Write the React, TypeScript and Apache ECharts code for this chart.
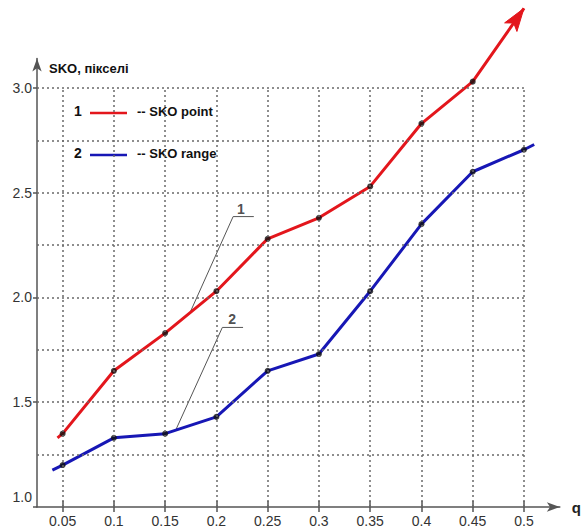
import React, { useEffect, useRef } from "react";
import * as echarts from "echarts";

// ---- data ----
const qValues = [0.05, 0.1, 0.15, 0.2, 0.25, 0.3, 0.35, 0.4, 0.45, 0.5];
const skoPointQ = [0.05, 0.1, 0.15, 0.2, 0.25, 0.3, 0.35, 0.4, 0.45];
const skoPoint = [1.35, 1.65, 1.83, 2.03, 2.28, 2.38, 2.53, 2.83, 3.03];
const skoRange = [1.2, 1.33, 1.35, 1.43, 1.65, 1.73, 2.03, 2.35, 2.6, 2.705];
const pointLineStart = [0.045, 1.33];
const pointArrowTip = [0.5, 3.38];
const rangeLineStart = [0.04, 1.176];
const rangeLineEnd = [0.51, 2.73];
const yTickLabels = [1.0, 1.5, 2.0, 2.5, 3.0];
const yGridValues = [1.25, 1.5, 1.75, 2.0, 2.25, 2.5, 2.75, 3.0];
const leader1 = [[0.174, 1.925], [0.2163, 2.386], [0.2365, 2.386]];
const leader2 = [[0.1606, 1.37], [0.2058, 1.857], [0.226, 1.857]];
const leaderLabels = [
  { name: "1", value: [0.224, 2.42] },
  { name: "2", value: [0.2154, 1.895] },
];
const xMin = 0.025;
const xMax = 0.535;
const yMin = 1.0;
const yMax = 3.14;
const legendItems = ["-- SKO point", "-- SKO range"];

const FONT = "Liberation Sans, Arial, sans-serif";
const RED = "#e3161c";
const BLUE = "#1717b5";
const GRID_COLOR = "#6a6a6a";
const ARROW_LEN = 23;
const ARROW_W = 15;

export default function App() {
  const ref = useRef<HTMLDivElement>(null);
  useEffect(() => {
    if (!ref.current) return;
    const chart = echarts.init(ref.current, null, { renderer: "svg" });

    const gridTop = 508 - (yMax - yMin) * 210;
    const gridLeft = 37;
    const gridRight = 584 - (37 + (xMax - xMin) * 1040);

    const gridLines: any[] = [];
    qValues.forEach((q) => {
      gridLines.push([{ coord: [q, yMin] }, { coord: [q, 3.0] }]);
    });
    yGridValues.forEach((v) => {
      gridLines.push([{ coord: [xMin, v] }, { coord: [0.5, v] }]);
    });

    const lastPoint = [skoPointQ[skoPointQ.length - 1], skoPoint[skoPoint.length - 1]];

    const option: any = {
      animation: false,
      grid: { left: gridLeft, right: gridRight, top: gridTop, bottom: 20, containLabel: false },
      xAxis: [
        {
          type: "value",
          min: xMin,
          max: xMax,
          name: "q",
          nameLocation: "end",
          nameGap: 12,
          nameTextStyle: { fontFamily: FONT, fontSize: 15, fontWeight: "bold", color: "#222", align: "left", verticalAlign: "middle", padding: [8, 0, 0, 0] },
          axisLine: { show: true, symbol: ["none", "arrow"], symbolSize: [7, 13], lineStyle: { color: "#555", width: 1.5 } },
          axisTick: { show: true, customValues: qValues, length: 5, lineStyle: { color: "#555", width: 1.5 } },
          axisLabel: {
            customValues: qValues,
            margin: 7,
            fontFamily: FONT,
            fontSize: 14,
            color: "#333",
            formatter: (v: number) => String(+v.toFixed(2)),
          },
          splitLine: { show: false },
        },
        {
          type: "value",
          min: xMin,
          max: xMax,
          position: "bottom",
          axisLine: { show: false },
          axisTick: { show: true, inside: true, customValues: qValues, length: 6, lineStyle: { color: "#555", width: 1.5 } },
          axisLabel: { show: false },
          splitLine: { show: false },
        },
      ],
      yAxis: {
        type: "value",
        min: yMin,
        max: yMax,
        name: "SKO, пікселі",
        nameLocation: "end",
        nameGap: -(68 - gridTop),
        nameTextStyle: { fontFamily: FONT, fontSize: 13, fontWeight: "bold", color: "#111", align: "left", verticalAlign: "middle", padding: [0, 0, 0, 12] },
        axisLine: { show: true, symbol: ["none", "arrow"], symbolSize: [7, 13], lineStyle: { color: "#555", width: 1.5 } },
        axisTick: { show: true, customValues: yTickLabels, length: 4, lineStyle: { color: "#555", width: 1.5 } },
        axisLabel: {
          customValues: yTickLabels,
          margin: 5,
          fontFamily: FONT,
          fontSize: 14,
          color: "#333",
          formatter: (v: number) => (v === yMin ? `{low|${v.toFixed(1)}}` : v.toFixed(1)),
          rich: { low: { fontFamily: FONT, fontSize: 14, color: "#333", padding: [0, 0, 20, 0] } },
        },
        splitLine: { show: false },
      },
      series: [
        {
          type: "line",
          data: [],
          silent: true,
          z: 1,
          markLine: {
            silent: true,
            symbol: ["none", "none"],
            label: { show: false },
            lineStyle: { color: GRID_COLOR, width: 1.5, type: [2, 3] },
            emphasis: { disabled: true },
            animation: false,
            data: gridLines,
          },
        },
        {
          name: "leader1",
          type: "line",
          data: leader1,
          symbol: "none",
          lineStyle: { color: "#555", width: 1 },
          silent: true,
          z: 2,
        },
        {
          name: "leader2",
          type: "line",
          data: leader2,
          symbol: "none",
          lineStyle: { color: "#555", width: 1 },
          silent: true,
          z: 2,
        },
        {
          id: "pointLine",
          name: "SKO point",
          type: "line",
          clip: false,
          data: [pointLineStart, ...skoPointQ.map((q, i) => [q, skoPoint[i]]), pointArrowTip],
          showSymbol: false,
          symbol: "none",
          lineStyle: { color: RED, width: 3 },
          z: 3,
        },
        {
          name: "SKO range",
          type: "line",
          clip: false,
          data: [rangeLineStart, ...qValues.map((q, i) => [q, skoRange[i]]), rangeLineEnd],
          showSymbol: false,
          symbol: "none",
          lineStyle: { color: BLUE, width: 3 },
          z: 3,
        },
        {
          type: "scatter",
          data: [
            ...skoPointQ.map((q, i) => [q, skoPoint[i]]),
            ...qValues.map((q, i) => [q, skoRange[i]]),
          ],
          symbolSize: 6,
          itemStyle: { color: "#111" },
          silent: true,
          z: 4,
        },
        {
          type: "scatter",
          data: leaderLabels,
          symbolSize: 0,
          silent: true,
          z: 4,
          label: {
            show: true,
            position: "inside",
            formatter: (p: any) => p.name,
            fontFamily: FONT,
            fontSize: 14,
            fontWeight: "bold",
            color: "#222",
          },
        },
      ],
      graphic: [
        { type: "text", left: 74, top: 104, style: { text: "1", font: `bold 14px ${FONT}`, fill: "#111" } },
        { type: "line", shape: { x1: 90, y1: 113, x2: 127, y2: 113 }, style: { stroke: RED, lineWidth: 2.5 } },
        { type: "text", left: 137, top: 105, style: { text: legendItems[0], font: `bold 13px ${FONT}`, fill: "#111" } },
        { type: "text", left: 74, top: 146, style: { text: "2", font: `bold 14px ${FONT}`, fill: "#111" } },
        { type: "line", shape: { x1: 90, y1: 155, x2: 127, y2: 155 }, style: { stroke: BLUE, lineWidth: 2.5 } },
        { type: "text", left: 137, top: 147, style: { text: legendItems[1], font: `bold 13px ${FONT}`, fill: "#111" } },
      ],
    };
    chart.setOption(option);

    // arrow head at the end of the SKO point curve, positioned with the chart's own scales
    const p0 = chart.convertToPixel({ gridIndex: 0 }, lastPoint) as number[];
    const p1 = chart.convertToPixel({ gridIndex: 0 }, pointArrowTip) as number[];
    const dx = p1[0] - p0[0];
    const dy = p1[1] - p0[1];
    const len = Math.sqrt(dx * dx + dy * dy);
    const ux = dx / len;
    const uy = dy / len;
    const nx = -uy;
    const ny = ux;
    const baseX = p1[0] - ux * ARROW_LEN;
    const baseY = p1[1] - uy * ARROW_LEN;
    const notchX = p1[0] - ux * ARROW_LEN * 0.78;
    const notchY = p1[1] - uy * ARROW_LEN * 0.78;
    const poly = [
      [p1[0], p1[1]],
      [baseX + nx * ARROW_W / 2, baseY + ny * ARROW_W / 2],
      [notchX, notchY],
      [baseX - nx * ARROW_W / 2, baseY - ny * ARROW_W / 2],
    ];
    chart.setOption({
      graphic: [
        { id: "arrowHead", type: "polygon", z: 100, shape: { points: poly }, style: { fill: RED, stroke: RED, lineWidth: 1 } },
      ],
    });

    return () => chart.dispose();
  }, []);
  return (
    <div
      ref={ref}
      style={{ position: "absolute", left: 0, top: 0, width: 584, height: 528, background: "#fff" }}
    />
  );
}
